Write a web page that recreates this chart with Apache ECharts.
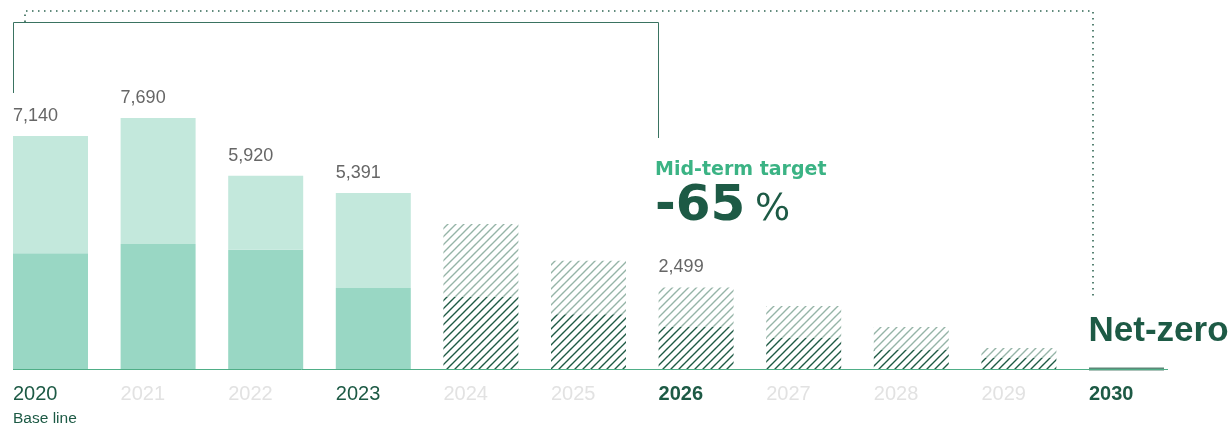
<!DOCTYPE html>
<html>
<head>
<meta charset="utf-8">
<script src="https://cdn.jsdelivr.net/npm/echarts@6/dist/echarts.min.js"></script>
<style>
  html, body { margin: 0; padding: 0; background: #fff; }
  #chart { width: 1232px; height: 429px; }
</style>
</head>
<body>
<div id="chart"></div>
<script>
// data
const years = ['2020', '2021', '2022', '2023', '2024', '2025', '2026', '2027', '2028', '2029', '2030']
const totals = [7140, 7690, 5920, 5391, 4440, 3320, 2499, 1930, 1290, 640, 0]
const lowerPart = [3550, 3830, 3650, 2480, 2210, 1680, 1290, 950, 580, 340, 0]
const actualCount = 4 // 2020-2023 are results, the rest are targets
const labeledYears = ['2020', '2021', '2022', '2023', '2026']
const darkYears = ['2020', '2023']
const boldYears = ['2026', '2030']

const DARK = '#1d5a45'

// hatch pattern
const hatch = (stroke) => {
  const size = 8
  const c = document.createElement('canvas')
  c.width = size
  c.height = size
  const ctx = c.getContext('2d')
  ctx.strokeStyle = stroke
  ctx.lineWidth = 1.4
  ctx.beginPath()
  ctx.moveTo(-1, size + 1)
  ctx.lineTo(size + 1, -1)
  ctx.moveTo(-2, 2)
  ctx.lineTo(2, -2)
  ctx.moveTo(size - 2, size + 2)
  ctx.lineTo(size + 2, size - 2)
  ctx.stroke()
  return { image: c, repeat: 'repeat' }
}
const hatchDark = hatch('#1e5a44')
const hatchLight = hatch('#95b4a7')

const chart = echarts.init(document.getElementById('chart'))

const lowerData = lowerPart.map((v, i) => {
  if (years[i] === '2030') {
    return {
      value: v,
      itemStyle: { color: '#5b8877', borderColor: '#5b8877', borderWidth: 3 },
      label: {
        show: true,
        formatter: 'Net-zero',
        position: [1, -36],
        align: 'left',
        verticalAlign: 'middle',
        color: DARK,
        fontFamily: 'Liberation Sans',
        fontWeight: 'bold',
        fontSize: 35
      }
    }
  }
  return { value: v, itemStyle: { color: i < actualCount ? '#99d7c4' : hatchDark } }
})

const upperData = totals.map((t, i) => {
  if (years[i] === '2030') return null
  return { value: t - lowerPart[i], itemStyle: { color: i < actualCount ? '#c3e8dc' : hatchLight } }
})

const axisRich = {
  d: { width: 75, align: 'left', color: DARK, fontSize: 20, lineHeight: 24, fontFamily: 'Liberation Sans' },
  g: { width: 75, align: 'left', color: '#e2e2e2', fontSize: 20, lineHeight: 24, fontFamily: 'Liberation Sans' },
  h: { width: 75, align: 'left', color: DARK, fontSize: 20, fontWeight: 'bold', lineHeight: 24, fontFamily: 'Liberation Sans' },
  b: { width: 75, align: 'left', color: DARK, fontSize: 15.5, lineHeight: 25, fontFamily: 'Liberation Sans' }
}

const option = {
  animation: false,
  grid: {
    left: 50.5,
    right: 105.5,
    top: 42.6,
    bottom: 60
  },
  xAxis: {
    type: 'category',
    data: years,
    boundaryGap: false,
    axisLine: { show: false },
    axisTick: { show: false },
    axisLabel: {
      interval: 0,
      margin: 13,
      formatter(value) {
        let s
        if (boldYears.includes(value)) s = '{h|' + value + '}'
        else if (darkYears.includes(value)) s = '{d|' + value + '}'
        else s = '{g|' + value + '}'
        if (value === '2020') s += '\n{b|Base line}'
        return s
      },
      rich: axisRich
    }
  },
  yAxis: {
    type: 'value',
    min: 0,
    max: 10000,
    show: false
  },
  series: [
    {
      name: 'lower',
      type: 'bar',
      stack: 'total',
      barWidth: 75,
      clip: false,
      data: lowerData
    },
    {
      name: 'upper',
      type: 'bar',
      stack: 'total',
      barWidth: 75,
      clip: false,
      data: upperData,
      label: {
        show: true,
        position: [0, -20],
        align: 'left',
        verticalAlign: 'middle',
        color: '#666',
        fontFamily: 'Liberation Sans',
        fontSize: 18,
        formatter(p) {
          const y = years[p.dataIndex]
          return labeledYears.includes(y) ? totals[p.dataIndex].toLocaleString('en-US') : ''
        }
      }
    }
  ],
  graphic: [
    // baseline
    {
      type: 'line',
      z: 10,
      shape: { x1: 13, y1: 369.5, x2: 1168, y2: 369.5 },
      style: { stroke: '#4fae87', lineWidth: 1 }
    },
    // bracket to mid-term target
    {
      type: 'polyline',
      shape: { points: [[13.5, 93], [13.5, 22.5], [658.5, 22.5], [658.5, 138]] },
      style: { stroke: '#3a7361', lineWidth: 1, fill: null }
    },
    // dotted bracket to net-zero
    {
      type: 'polyline',
      shape: { points: [[25, 22], [25, 11], [1093, 11], [1093, 298]] },
      style: { stroke: '#2f6552', lineWidth: 1.6, lineDash: [1.5, 4.5], fill: null }
    },
    {
      type: 'text',
      x: 655,
      y: 170,
      style: {
        text: 'Mid-term target',
        fill: '#3bb384',
        font: 'bold 19px "DejaVu Sans"',
        verticalAlign: 'middle'
      }
    },
    {
      type: 'text',
      x: 655,
      y: 207,
      style: {
        text: '-65',
        fill: DARK,
        font: 'bold 50px "DejaVu Sans"',
        verticalAlign: 'middle'
      }
    },
    {
      type: 'text',
      x: 755,
      y: 210,
      style: {
        text: '%',
        fill: DARK,
        font: '37px "DejaVu Sans"',
        verticalAlign: 'middle'
      }
    }
  ]
}

chart.setOption(option)
window.addEventListener('resize', () => {
  chart.resize()
})
</script>
</body>
</html>
